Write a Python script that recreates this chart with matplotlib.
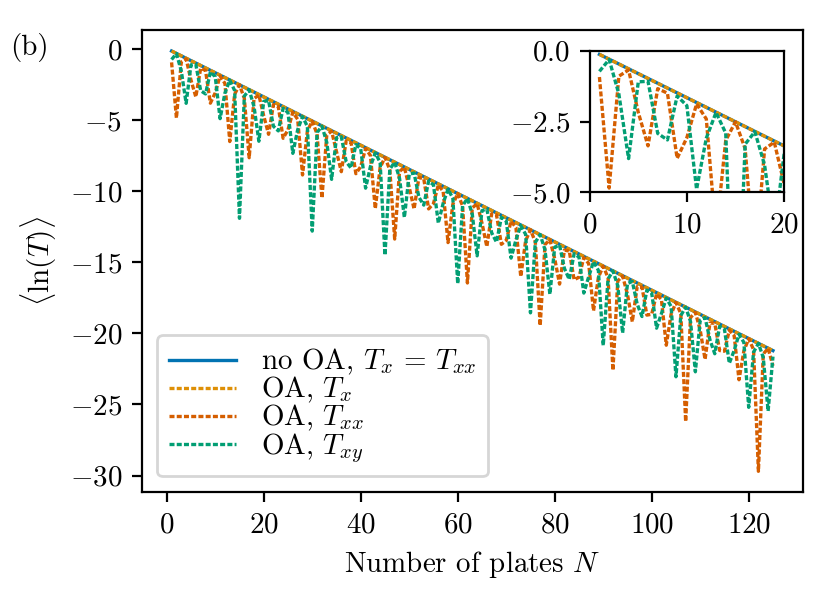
import matplotlib
matplotlib.use("Agg")
import matplotlib.pyplot as plt

plt.rcParams['font.family'] = 'serif'
plt.rcParams['font.serif'] = ['cmr10']
plt.rcParams['mathtext.fontset'] = 'cm'
plt.rcParams['axes.formatter.use_mathtext'] = True
plt.rcParams['font.size'] = 10.45

plates = list(range(1, 126))

ln_T_no_oa = [
    -0.13, -0.30, -0.47, -0.64, -0.81, -0.98, -1.15, -1.32, -1.49, -1.66,
    -1.83, -2.00, -2.17, -2.34, -2.51, -2.68, -2.85, -3.02, -3.19, -3.36,
    -3.53, -3.70, -3.87, -4.04, -4.21, -4.38, -4.55, -4.72, -4.89, -5.06,
    -5.23, -5.40, -5.57, -5.74, -5.91, -6.08, -6.25, -6.42, -6.59, -6.76,
    -6.93, -7.10, -7.27, -7.44, -7.61, -7.78, -7.95, -8.12, -8.29, -8.46,
    -8.63, -8.80, -8.97, -9.14, -9.31, -9.48, -9.65, -9.82, -9.99, -10.16,
    -10.33, -10.50, -10.67, -10.84, -11.01, -11.18, -11.35, -11.52, -11.69, -11.86,
    -12.03, -12.20, -12.37, -12.54, -12.71, -12.88, -13.05, -13.22, -13.39, -13.56,
    -13.73, -13.90, -14.07, -14.24, -14.41, -14.58, -14.75, -14.92, -15.09, -15.26,
    -15.43, -15.60, -15.77, -15.94, -16.11, -16.28, -16.45, -16.62, -16.79, -16.96,
    -17.13, -17.30, -17.47, -17.64, -17.81, -17.98, -18.15, -18.32, -18.49, -18.66,
    -18.83, -19.00, -19.17, -19.34, -19.51, -19.68, -19.85, -20.02, -20.19, -20.36,
    -20.53, -20.70, -20.87, -21.04, -21.21,
]

ln_T_x_oa = [
    -0.13, -0.30, -0.47, -0.64, -0.81, -0.98, -1.15, -1.32, -1.49, -1.66,
    -1.83, -2.00, -2.17, -2.34, -2.51, -2.68, -2.85, -3.02, -3.19, -3.36,
    -3.53, -3.70, -3.87, -4.04, -4.21, -4.38, -4.55, -4.72, -4.89, -5.06,
    -5.23, -5.40, -5.57, -5.74, -5.91, -6.08, -6.25, -6.42, -6.59, -6.76,
    -6.93, -7.10, -7.27, -7.44, -7.61, -7.78, -7.95, -8.12, -8.29, -8.46,
    -8.63, -8.80, -8.97, -9.14, -9.31, -9.48, -9.65, -9.82, -9.99, -10.16,
    -10.33, -10.50, -10.67, -10.84, -11.01, -11.18, -11.35, -11.52, -11.69, -11.86,
    -12.03, -12.20, -12.37, -12.54, -12.71, -12.88, -13.05, -13.22, -13.39, -13.56,
    -13.73, -13.90, -14.07, -14.24, -14.41, -14.58, -14.75, -14.92, -15.09, -15.26,
    -15.43, -15.60, -15.77, -15.94, -16.11, -16.28, -16.45, -16.62, -16.79, -16.96,
    -17.13, -17.30, -17.47, -17.64, -17.81, -17.98, -18.15, -18.32, -18.49, -18.66,
    -18.83, -19.00, -19.17, -19.34, -19.51, -19.68, -19.85, -20.02, -20.19, -20.36,
    -20.53, -20.70, -20.87, -21.04, -21.21,
]

ln_T_xx_oa = [
    -0.93, -4.85, -0.90, -0.68, -2.18, -3.36, -1.34, -1.50, -3.80, -3.07,
    -1.88, -2.41, -6.50, -3.17, -2.51, -3.46, -7.64, -3.47, -3.23, -4.69,
    -5.99, -3.90, -4.03, -6.27, -5.67, -4.43, -4.94, -8.85, -5.75, -5.06,
    -5.98, -10.48, -6.03, -5.77, -7.20, -8.62, -6.46, -6.57, -8.76, -8.26,
    -6.99, -7.48, -11.22, -8.33, -7.61, -8.50, -13.36, -8.60, -8.32, -9.71,
    -11.25, -9.02, -9.12, -11.24, -10.86, -9.55, -10.01, -13.61, -10.90, -10.16,
    -11.03, -16.45, -11.17, -10.87, -12.23, -13.89, -11.58, -11.66, -13.73, -13.46,
    -12.10, -12.55, -16.00, -13.48, -12.71, -13.56, -19.45, -13.74, -13.41, -14.74,
    -16.53, -14.14, -14.20, -16.22, -16.05, -14.66, -15.08, -18.41, -16.06, -15.27,
    -16.08, -22.60, -16.31, -15.96, -17.25, -19.18, -16.71, -16.74, -18.71, -18.65,
    -17.22, -17.61, -20.83, -18.65, -17.82, -18.61, -26.20, -18.88, -18.51, -19.77,
    -21.83, -19.27, -19.28, -21.20, -21.25, -19.77, -20.15, -23.26, -21.23, -20.37,
    -21.14, -29.70, -21.45, -21.05, -22.28,
]

ln_T_xy_oa = [
    -0.73, -0.31, -1.53, -3.81, -1.10, -1.08, -2.92, -3.15, -1.60, -1.94,
    -4.89, -3.09, -2.18, -2.91, -11.90, -3.30, -2.86, -4.04, -6.48, -3.67,
    -3.62, -5.42, -5.75, -4.15, -4.47, -7.33, -5.67, -4.74, -5.44, -12.80,
    -5.87, -5.41, -6.56, -9.16, -6.23, -6.16, -7.92, -8.36, -6.71, -7.01,
    -9.78, -8.26, -7.29, -7.97, -14.50, -8.44, -7.95, -9.08, -11.84, -8.80,
    -8.71, -10.42, -10.97, -9.27, -9.55, -12.24, -10.84, -9.84, -10.50, -16.50,
    -11.02, -10.50, -11.60, -14.54, -11.36, -11.25, -12.92, -13.58, -11.83, -12.09,
    -14.70, -13.43, -12.40, -13.03, -18.55, -13.59, -13.05, -14.12, -17.24, -13.93,
    -13.79, -15.43, -16.20, -14.39, -14.63, -17.16, -16.02, -14.95, -15.56, -20.85,
    -16.17, -15.60, -16.64, -19.97, -16.49, -16.34, -17.93, -18.81, -16.95, -17.16,
    -19.63, -18.61, -17.51, -18.10, -23.05, -18.74, -18.15, -19.16, -22.70, -19.06,
    -18.88, -20.44, -21.43, -19.51, -19.70, -22.10, -21.20, -20.06, -20.63, -25.20,
    -21.32, -20.70, -21.69, -25.46, -21.63,
]

labels = [r'no OA, $T_x$ = $T_{xx}$', r'OA, $T_x$', r'OA, $T_{xx}$', r'OA, $T_{xy}$']
colors = ['#0173b2', '#de8f05', '#d55e00', '#029e73']
dash = (0, (1.5, 0.67))
lw = 1.2

fig = plt.figure(figsize=(4.15, 2.965), dpi=200)
ax = fig.add_axes([0.1705, 0.1698, 0.797, 0.7796])


def draw(a):
    a.plot(plates, ln_T_no_oa, color=colors[0], lw=lw, label=labels[0])
    a.plot(plates, ln_T_x_oa, color=colors[1], lw=lw, ls=dash, label=labels[1])
    a.plot(plates, ln_T_xx_oa, color=colors[2], lw=lw, ls=dash, label=labels[2])
    a.plot(plates, ln_T_xy_oa, color=colors[3], lw=lw, ls=dash, label=labels[3])


draw(ax)
ax.set_xlabel(r'Number of plates $N$')
ax.set_ylabel(r'$\langle \ln(T) \rangle$')
ax.set_xticks([0, 20, 40, 60, 80, 100, 120])
ax.set_yticks([0, -5, -10, -15, -20, -25, -30])
ax.legend(loc='lower left', labelspacing=-0.08, handlelength=2.3,
          handletextpad=0.85, borderaxespad=0.55)

ins = fig.add_axes([0.7105, 0.6757, 0.2341, 0.2388])
draw(ins)
ins.set_xlim(0, 20)
ins.set_ylim(-5, 0)
ins.set_xticks([0, 10, 20])
ins.set_yticks([0.0, -2.5, -5.0])
ins.set_yticklabels([r'$0.0$', r'$-2.5$', r'$-5.0$'])

fig.text(0.012, 0.945, '(b)', ha='left', va='top')

fig.savefig('out.png', dpi=200)
